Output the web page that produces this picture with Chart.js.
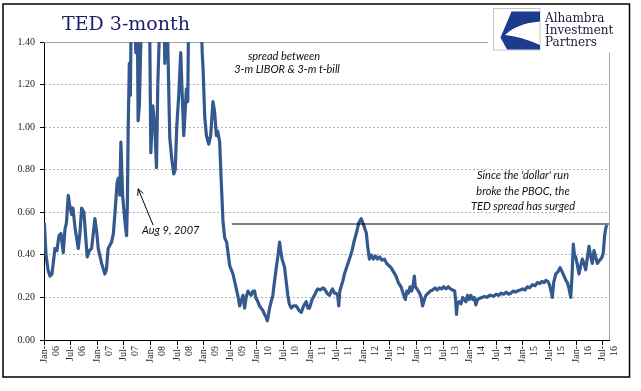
<!DOCTYPE html>
<html><head><meta charset="utf-8">
<script src="https://cdn.jsdelivr.net/npm/chart.js@4/dist/chart.umd.min.js"></script>
<style>html,body{margin:0;padding:0;background:#fff;}canvas{display:block;}</style>
</head><body>
<canvas id="c" width="641" height="391" style="width:641px;height:391px"></canvas>
<script>
// ---- data (time in decimal years, TED spread in percentage points) ----
const time = [
2006.006,2006.038,2006.075,2006.113,2006.150,2006.206,2006.244,2006.281,2006.319,2006.362,2006.394,2006.422,2006.456,2006.478,2006.520,2006.544,2006.582,2006.644,2006.675,2006.707,2006.750,2006.812,2006.854,2006.895,2006.957,2006.994,
2007.019,2007.083,2007.144,2007.173,2007.206,2007.270,2007.304,2007.332,2007.375,2007.398,2007.426,2007.445,2007.477,2007.520,2007.552,2007.567,2007.582,2007.604,2007.623,2007.642,2007.670,2007.707,2007.726,2007.745,2007.769,2007.792,2007.820,2007.848,2007.895,2007.951,2007.989,
2008.008,2008.045,2008.083,2008.114,2008.139,2008.176,2008.233,2008.270,2008.298,2008.326,2008.364,2008.402,2008.439,2008.467,2008.495,2008.533,2008.570,2008.598,2008.627,2008.677,2008.702,2008.730,2008.777,2008.852,2008.908,2008.946,2008.974,2008.989,
2009.021,2009.053,2009.096,2009.133,2009.176,2009.208,2009.240,2009.265,2009.302,2009.334,2009.364,2009.396,2009.433,2009.490,2009.552,2009.615,2009.650,2009.677,2009.715,2009.740,2009.771,2009.800,2009.833,2009.860,2009.893,2009.930,2009.959,2009.980,
2010.021,2010.050,2010.081,2010.110,2010.146,2010.170,2010.197,2010.220,2010.240,2010.270,2010.302,2010.330,2010.366,2010.400,2010.428,2010.450,2010.475,2010.500,2010.522,2010.550,2010.583,2010.610,2010.647,2010.690,2010.741,2010.790,2010.835,2010.880,2010.929,2010.960,2010.991,
2011.040,2011.084,2011.120,2011.146,2011.200,2011.240,2011.272,2011.320,2011.366,2011.400,2011.422,2011.460,2011.488,2011.520,2011.540,2011.560,2011.585,2011.620,2011.647,2011.700,2011.741,2011.790,2011.835,2011.880,2011.916,2011.961,
2012.023,2012.060,2012.084,2012.116,2012.150,2012.190,2012.230,2012.270,2012.310,2012.350,2012.400,2012.440,2012.480,2012.523,2012.570,2012.617,2012.660,2012.711,2012.750,2012.792,2012.820,2012.850,2012.880,2012.910,2012.940,2012.961,2012.980,
2013.023,2013.060,2013.090,2013.116,2013.150,2013.180,2013.220,2013.260,2013.304,2013.350,2013.390,2013.430,2013.470,2013.510,2013.555,2013.600,2013.640,2013.679,2013.720,2013.740,2013.754,2013.770,2013.800,2013.837,2013.870,2013.900,2013.931,2013.960,2013.990,
2014.024,2014.060,2014.090,2014.118,2014.150,2014.180,2014.230,2014.280,2014.330,2014.370,2014.400,2014.450,2014.500,2014.550,2014.590,2014.640,2014.690,2014.730,2014.775,2014.820,2014.860,2014.899,2014.950,
2015.000,2015.040,2015.086,2015.130,2015.180,2015.230,2015.274,2015.320,2015.360,2015.400,2015.432,2015.470,2015.500,2015.530,2015.555,2015.580,2015.619,2015.660,2015.700,2015.740,2015.775,2015.810,2015.837,2015.870,2015.901,2015.925,2015.949,2015.970,2015.994,
2016.020,2016.056,2016.090,2016.118,2016.150,2016.182,2016.210,2016.244,2016.270,2016.306,2016.338,2016.370,2016.400,2016.430,2016.463,2016.490,2016.512,2016.538,2016.555,2016.576
];
const tedSpread = [
0.55,0.40,0.33,0.30,0.31,0.43,0.42,0.49,0.50,0.41,0.52,0.55,0.68,0.64,0.59,0.62,0.53,0.43,0.50,0.62,0.60,0.39,0.42,0.43,0.57,0.50,
0.43,0.36,0.31,0.33,0.43,0.46,0.50,0.59,0.74,0.76,0.68,0.93,0.68,0.56,0.49,0.64,0.99,1.30,1.15,1.60,2.40,1.50,1.35,1.80,1.03,1.10,1.40,1.90,2.20,1.70,1.40,
0.88,1.10,1.00,0.81,1.20,1.50,2.00,1.30,1.60,1.40,0.95,0.85,0.78,0.80,1.00,1.15,1.35,1.15,0.96,1.18,1.12,1.80,3.00,4.60,2.50,1.60,1.35,1.28,
1.05,0.96,0.92,0.96,1.12,1.07,0.96,0.98,0.93,0.73,0.56,0.48,0.46,0.35,0.31,0.24,0.20,0.16,0.19,0.21,0.15,0.20,0.23,0.22,0.21,0.23,0.23,0.20,
0.18,0.16,0.15,0.14,0.12,0.11,0.09,0.12,0.15,0.18,0.21,0.27,0.34,0.40,0.46,0.42,0.38,0.36,0.34,0.28,0.21,0.17,0.15,0.16,0.16,0.14,0.13,0.16,0.18,0.15,0.15,
0.19,0.21,0.23,0.24,0.235,0.245,0.24,0.22,0.21,0.23,0.24,0.22,0.22,0.21,0.16,0.23,0.25,0.28,0.31,0.35,0.38,0.42,0.47,0.51,0.55,0.57,
0.53,0.50,0.44,0.38,0.40,0.38,0.395,0.38,0.39,0.375,0.38,0.36,0.35,0.34,0.32,0.30,0.27,0.25,0.22,0.19,0.23,0.22,0.25,0.23,0.26,0.30,0.25,
0.235,0.22,0.20,0.16,0.19,0.21,0.22,0.23,0.235,0.245,0.235,0.245,0.24,0.25,0.24,0.25,0.24,0.235,0.23,0.18,0.12,0.17,0.18,0.17,0.20,0.19,0.18,0.21,0.19,
0.21,0.19,0.20,0.165,0.19,0.195,0.20,0.205,0.20,0.21,0.21,0.205,0.215,0.21,0.22,0.215,0.225,0.215,0.22,0.23,0.225,0.23,0.235,
0.24,0.235,0.25,0.245,0.26,0.255,0.27,0.265,0.275,0.27,0.28,0.275,0.26,0.23,0.20,0.27,0.31,0.32,0.34,0.32,0.30,0.28,0.27,0.24,0.20,0.30,0.45,0.40,0.39,
0.36,0.31,0.35,0.38,0.36,0.33,0.38,0.44,0.40,0.36,0.42,0.39,0.36,0.37,0.38,0.39,0.41,0.49,0.52,0.54
];
const tickLabels = ['Jan-06','Jul-06','Jan-07','Jul-07','Jan-08','Jul-08','Jan-09','Jul-09','Jan-10','Jul-10','Jan-11','Jul-11','Jan-12','Jul-12','Jan-13','Jul-13','Jan-14','Jul-14','Jan-15','Jul-15','Jan-16','Jul-16'];
const tickYears = [2006,2006.5,2007,2007.5,2008,2008.5,2009,2009.5,2010,2010.5,2011,2011.5,2012,2012.5,2013,2013.5,2014,2014.5,2015,2015.5,2016,2016.5];
const xMin = 2006, xMax = 2016.62;
const yMin = 0, yMax = 1.4, yStep = 0.2;
// reference level line (recent high matched against 2011/12 peak)
const levelValue = 0.545;
const levelFrom = [2009.53, 2016.62];
// text notes
const titleText = 'TED 3-month';
const noteTop = ['spread between', '3-m LIBOR & 3-m t-bill'];
const noteRight = ["Since the 'dollar' run", 'broke the PBOC, the', 'TED spread has surged'];
const noteAug = 'Aug 9, 2007';
const logoLines = ['Alhambra', 'Investment', 'Partners'];

const decor = {
  id: 'decor',
  beforeDraw(chart) {
    const c = chart.ctx;
    c.save(); c.fillStyle = '#fff'; c.fillRect(0, 0, chart.width, chart.height); c.restore();
  },
  beforeDatasetsDraw(chart) {
    const c = chart.ctx, a = chart.chartArea;
    c.save();
    c.strokeStyle = '#a6a6a6'; c.lineWidth = 1;
    c.beginPath();
    c.moveTo(a.left, a.top + 0.5); c.lineTo(a.right + 0.5, a.top + 0.5);
    c.lineTo(a.right + 0.5, a.bottom);
    c.stroke();
    c.restore();
  },
  afterDraw(chart) {
    const c = chart.ctx, xs = chart.scales.x, ys = chart.scales.y;
    c.save();
    // title
    c.fillStyle = '#1c1c6b';
    c.font = '19px "DejaVu Serif"';
    c.textAlign = 'left'; c.textBaseline = 'alphabetic';
    c.fillText(titleText, 62, 29.5);
    // notes
    c.fillStyle = '#111';
    c.font = 'italic 11px Lato';
    c.textAlign = 'center';
    c.fillText(noteTop[0], 284, 60);
    c.fillText(noteTop[1], 287, 73);
    const rx = 523;
    c.fillText(noteRight[0], rx, 179);
    c.fillText(noteRight[1], rx, 195);
    c.fillText(noteRight[2], rx, 210);
    c.textAlign = 'left';
    c.fillText(noteAug, 142, 234);
    // arrow
    const x1 = xs.getPixelForValue(2008.05), y1 = ys.getPixelForValue(0.54);
    const x2 = xs.getPixelForValue(2007.77), y2 = ys.getPixelForValue(0.71);
    c.strokeStyle = '#000'; c.lineWidth = 1;
    c.beginPath(); c.moveTo(x1, y1); c.lineTo(x2, y2); c.stroke();
    const ang = Math.atan2(y2 - y1, x2 - x1), L = 7;
    c.beginPath();
    c.moveTo(x2 - L * Math.cos(ang - 0.45), y2 - L * Math.sin(ang - 0.45));
    c.lineTo(x2, y2);
    c.lineTo(x2 - L * Math.cos(ang + 0.45), y2 - L * Math.sin(ang + 0.45));
    c.stroke();
    // logo
    c.fillStyle = '#fff';
    c.fillRect(488, 5.5, 138, 47);
    c.strokeStyle = '#c8c8c8'; c.lineWidth = 1;
    c.strokeRect(493.5, 8.5, 46.5, 41.5);
    c.fillStyle = '#1b3c8c';
    c.beginPath();
    c.moveTo(511.5, 11.5); c.lineTo(540, 11.5); c.lineTo(540, 21.5);
    c.quadraticCurveTo(516.5, 23.5, 505, 35);
    c.quadraticCurveTo(521, 36.5, 540, 45);
    c.lineTo(540, 49.5); c.lineTo(507, 49.5); c.lineTo(500.5, 37.5);
    c.closePath(); c.fill();
    c.fillStyle = '#1a1a40';
    c.font = '12px "DejaVu Serif"';
    c.fillText(logoLines[0], 545, 21.7);
    c.fillText(logoLines[1], 545, 33.5);
    c.fillText(logoLines[2], 545, 46);
    // frame
    c.strokeStyle = '#000'; c.lineWidth = 1.5;
    c.strokeRect(3, 4, 626.5, 373);
    c.restore();
  }
};

new Chart(document.getElementById('c'), {
  type: 'line',
  data: {
    datasets: [
      {
        data: [{x: levelFrom[0], y: levelValue}, {x: levelFrom[1], y: levelValue}],
        borderColor: '#000', borderWidth: 1.2, pointRadius: 0, clip: 2
      },
      {
        data: time.map((t, i) => ({x: t, y: tedSpread[i]})),
        borderColor: '#34598f', borderWidth: 3.2, pointRadius: 0, tension: 0,
        borderJoinStyle: 'round', clip: 0
      }
    ]
  },
  options: {
    responsive: false, animation: false, devicePixelRatio: 1,
    layout: {padding: {left: 0, right: 32, top: 42, bottom: 15}},
    plugins: {legend: {display: false}, tooltip: {enabled: false}, title: {display: false}},
    scales: {
      x: {
        type: 'linear', min: xMin, max: xMax,
        afterFit(s) { s.height = 36; },
        afterBuildTicks(s) { s.ticks = tickYears.map(v => ({value: v})); },
        grid: {drawOnChartArea: false, tickLength: 5, tickColor: '#000'},
        border: {color: '#000', width: 1},
        ticks: {
          autoSkip: false, maxRotation: 90, minRotation: 90, padding: 1,
          color: '#222', font: {family: '"Liberation Serif"', size: 10},
          callback(v) { const i = tickYears.indexOf(v); if (i < 0) return ''; const s = tickLabels[i]; return [s.slice(0, 4), s.slice(4)]; }
        }
      },
      y: {
        min: yMin, max: yMax,
        afterFit(s) { s.width = 44; },
        grid: {color: '#b4b4b4', lineWidth: 1, tickLength: 4, tickColor: '#000', tickBorderDash: []},
        border: {color: '#000', width: 1, dash: [2, 2]},
        ticks: {
          stepSize: yStep, padding: 5, color: '#222',
          font: {family: '"Liberation Serif"', size: 10},
          callback(v) { return Number(v).toFixed(2); }
        }
      }
    }
  },
  plugins: [decor]
});
</script>
</body></html>
